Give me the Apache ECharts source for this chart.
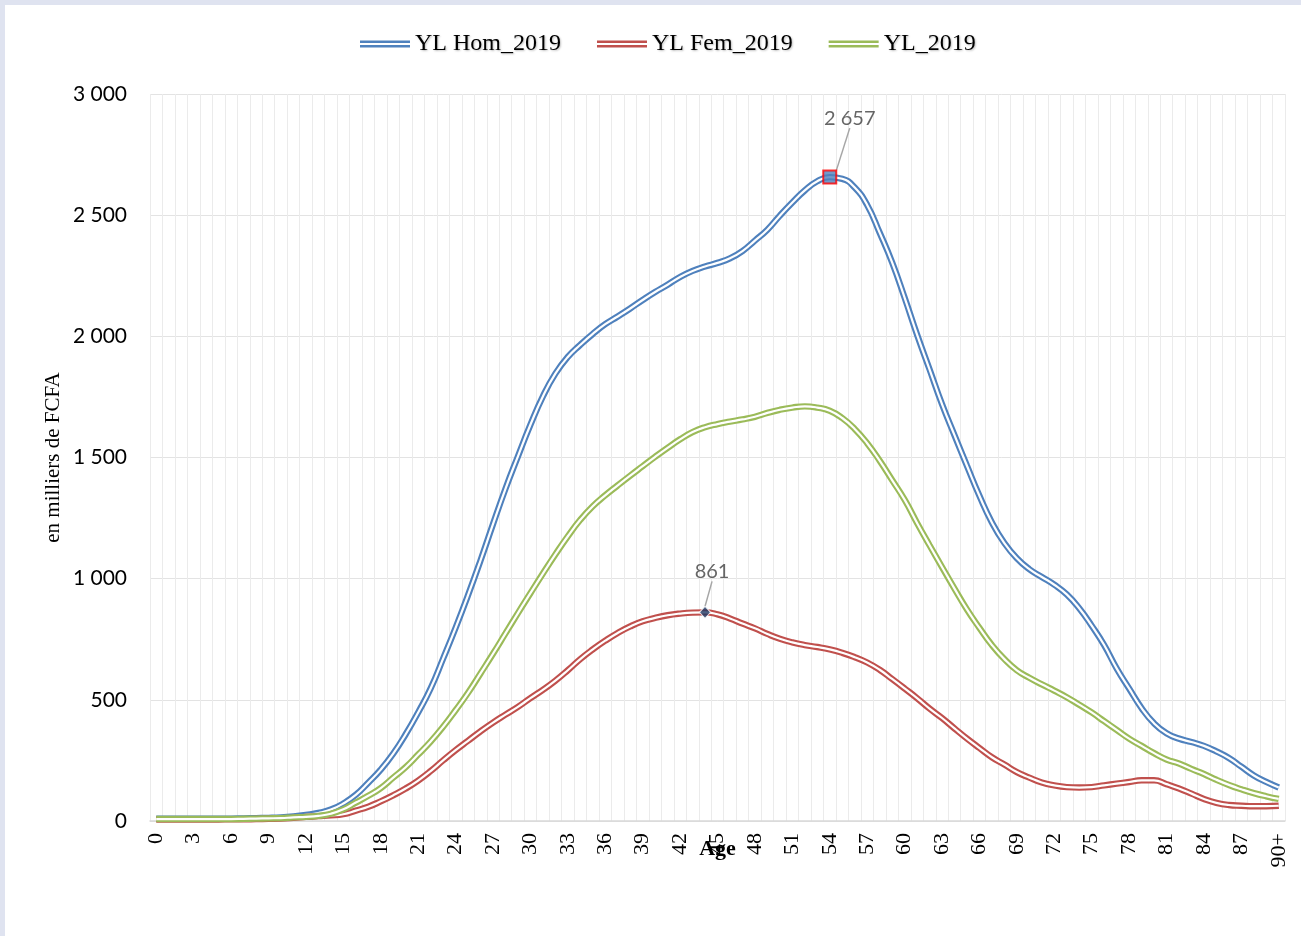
<!DOCTYPE html>
<html>
<head>
<meta charset="utf-8">
<title>YL 2019</title>
<script src="https://cdn.jsdelivr.net/npm/echarts@6/dist/echarts.min.js"></script>
<style>
  html, body { margin: 0; padding: 0; background: #dfe3f0; }
  #main { position: absolute; left: 5px; top: 5px; width: 1296px; height: 931px; background: #fff; }
</style>
</head>
<body>
<div id="main"></div>
<script>
// ages 0..89 then 90+
var ages = []
for (var a = 0; a < 90; a++) ages.push(String(a))
ages.push('90+')

var seriesNames = ['YL Hom_2019', 'YL Fem_2019', 'YL_2019']

// en milliers de FCFA
var ylHom = [10, 10, 10, 10, 10, 10, 10, 11, 12, 13,
  15, 19, 25, 33, 47, 72, 108, 158, 212, 278,
  358, 448, 547, 670, 797, 932, 1075, 1225, 1371, 1505,
  1635, 1752, 1846, 1915, 1965, 2010, 2050, 2082, 2115, 2150,
  2183, 2213, 2245, 2270, 2288, 2303, 2322, 2352, 2395, 2440,
  2498, 2552, 2602, 2640, 2657, 2650, 2614, 2542, 2428, 2305,
  2160, 2007, 1864, 1720, 1592, 1466, 1342, 1232, 1147, 1084,
  1039, 1007, 975, 935, 878, 806, 726, 630, 547, 466,
  403, 362, 340, 326, 310, 287, 260, 224, 188, 161,
  138]

var ylFem = [6, 6, 6, 6, 6, 6, 7, 7, 8, 9,
  10, 13, 17, 20, 23, 28, 43, 59, 81, 106,
  134, 167, 206, 250, 292, 331, 370, 406, 439, 471,
  507, 541, 579, 622, 668, 708, 744, 776, 803, 824,
  838, 849, 856, 860, 861, 853, 836, 815, 795, 772,
  752, 737, 726, 718, 708, 694, 676, 654, 624, 586,
  547, 507, 464, 425, 382, 340, 301, 263, 233, 202,
  179, 159, 147, 140, 138, 140, 147, 154, 161, 168,
  168, 152, 134, 113, 91, 75, 66, 63, 61, 61,
  63]

var ylTot = [8, 8, 8, 8, 8, 8, 8, 9, 10, 11,
  12, 15, 17, 21, 30, 48, 76, 104, 136, 179,
  222, 274, 328, 389, 457, 529, 609, 690, 774, 858,
  940, 1021, 1100, 1175, 1243, 1299, 1344, 1385, 1425, 1464,
  1503, 1540, 1575, 1605, 1625, 1638, 1648, 1657, 1668, 1684,
  1697, 1706, 1711, 1706, 1693, 1663, 1618, 1559, 1487, 1407,
  1326, 1230, 1138, 1048, 959, 873, 797, 726, 668, 622,
  591, 564, 538, 511, 480, 448, 412, 376, 340, 310,
  280, 254, 237, 215, 194, 170, 149, 131, 115, 102,
  91]

var colors = ['#4F81BD', '#C0504D', '#9BBB59']

function fmt(v) {
  return String(v).replace(/\B(?=(\d{3})+(?!\d))/g, ' ')
}

function peak(arr) {
  var m = Math.max.apply(null, arr)
  var i = arr.indexOf(m)
  return [ages[i], m]
}

var myChart = echarts.init(document.getElementById('main'))

var lineData = [ylHom, ylFem, ylTot]
var series = []
// ligne double : trait large coloré + trait blanc au centre
lineData.forEach(function (d, i) {
  series.push({
    name: seriesNames[i],
    type: 'line',
    data: d,
    smooth: true,
    symbol: 'none',
    color: colors[i],
    lineStyle: { width: 6.4, color: colors[i] },
    z: 2
  })
  series.push({
    name: seriesNames[i] + '_in',
    type: 'line',
    data: d,
    smooth: true,
    symbol: 'none',
    silent: true,
    lineStyle: { width: 2.2, color: '#ffffff' },
    z: 2
  })
})

// points max avec étiquettes
series.push({
  type: 'scatter',
  data: [peak(ylHom)],
  symbol: 'rect',
  symbolSize: 13,
  itemStyle: { color: '#4F81BD', borderColor: '#FF0000', borderWidth: 2 },
  label: {
    show: true,
    position: 'inside',
    formatter: function (p) { return fmt(p.value[1]) },
    fontFamily: 'Lato',
    fontSize: 20,
    color: '#404040'
  },
  labelLayout: { dx: 20, dy: -59 },
  labelLine: { show: true, lineStyle: { color: '#A6A6A6', width: 1.5 } },
  z: 5
})
series.push({
  type: 'scatter',
  data: [peak(ylFem)],
  symbol: 'diamond',
  symbolSize: [11, 12],
  itemStyle: { color: '#1F3864', borderColor: '#ffffff', borderWidth: 1 },
  label: {
    show: true,
    position: 'inside',
    formatter: function (p) { return fmt(p.value[1]) },
    fontFamily: 'Lato',
    fontSize: 20,
    color: '#404040'
  },
  labelLayout: { dx: 7, dy: -41 },
  labelLine: { show: true, lineStyle: { color: '#A6A6A6', width: 1.5 } },
  z: 5
})

var option = {
  animation: false,
  legend: {
    data: seriesNames,
    top: 22,
    left: 350,
    itemWidth: 50,
    itemHeight: 7,
    itemGap: 36,
    icon: 'path://M0,0H50V2.4H0Z M0,4.6H50V7H0Z',
    textStyle: {
      fontFamily: 'Liberation Serif',
      fontSize: 24,
      color: '#000',
      textShadowColor: 'rgba(0,0,0,0.25)',
      textShadowBlur: 2,
      textShadowOffsetX: 1,
      textShadowOffsetY: 1
    }
  },
  grid: { left: 145, right: 16, top: 89, bottom: 115 },
  xAxis: {
    type: 'category',
    data: ages,
    boundaryGap: true,
    name: 'Age',
    nameLocation: 'middle',
    nameGap: 17,
    nameMoveOverlap: false,
    nameTextStyle: { fontFamily: 'Liberation Serif', fontSize: 22, fontWeight: 'bold', color: '#000' },
    axisLine: { lineStyle: { color: '#D9D9D9', width: 1.5 } },
    axisTick: { show: false },
    axisLabel: {
      interval: 2,
      rotate: 90,
      margin: 12,
      fontFamily: 'Liberation Serif',
      fontSize: 22,
      color: '#000'
    },
    splitLine: { show: true, interval: 0, lineStyle: { color: '#EBEBEB', width: 1 } }
  },
  yAxis: {
    type: 'value',
    min: 0,
    max: 3000,
    interval: 500,
    name: 'en milliers de FCFA',
    nameLocation: 'middle',
    nameGap: 86,
    nameMoveOverlap: false,
    nameTextStyle: { fontFamily: 'Liberation Serif', fontSize: 21, color: '#000' },
    axisLine: { show: false },
    axisTick: { show: false },
    axisLabel: {
      margin: 23,
      fontFamily: 'Lato',
      fontSize: 21,
      color: '#000',
      formatter: fmt
    },
    splitLine: { lineStyle: { color: '#E3E3E3', width: 1 } }
  },
  series: series
}

myChart.setOption(option)
</script>
</body>
</html>
